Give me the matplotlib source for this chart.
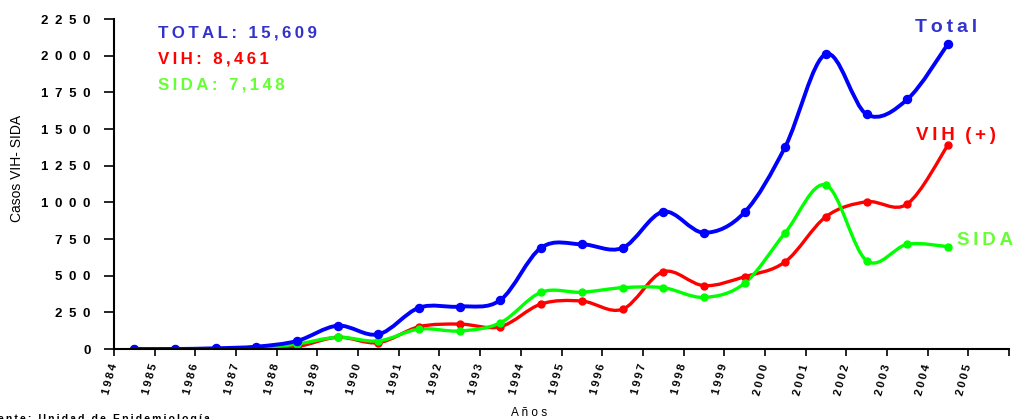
import numpy as np
import matplotlib
matplotlib.use("Agg")
import matplotlib.pyplot as plt
from matplotlib.path import Path
from matplotlib.patches import PathPatch
from matplotlib.transforms import ScaledTranslation

plt.rcParams['font.family'] = ['Liberation Sans', 'DejaVu Sans']

# datos
tick_years = list(range(1984, 2006))
years = list(range(1984, 2005))
total = [0, 0, 5, 16, 55, 159, 100, 282, 289, 334, 691, 714, 689, 936, 793, 932, 1379, 2011, 1600, 1702, 2080]
vih = [0, 0, 0, 0, 16, 80, 43, 152, 170, 152, 307, 327, 271, 527, 432, 493, 595, 902, 1004, 989, 1391]
sida = [0, 0, 0, 4, 34, 80, 55, 136, 123, 179, 387, 387, 418, 418, 352, 448, 793, 1118, 602, 714, 698]
yticks = [0, 250, 500, 750, 1000, 1250, 1500, 1750, 2000, 2250]

W, H = 1014, 419


def sp(s, gap='\u2009'):
    # espaciado entre letras
    return gap.join(s)


def px(x, y):
    return x / W, 1 - y / H


def smooth(ax, xs, ys, color, lw, ms):
    pts = np.column_stack([xs, ys]).astype(float)
    n = len(pts)
    verts = [pts[0]]
    codes = [Path.MOVETO]
    for i in range(n - 1):
        p0 = pts[max(i - 1, 0)]
        p1 = pts[i]
        p2 = pts[i + 1]
        p3 = pts[min(i + 2, n - 1)]
        verts += [p1 + (p2 - p0) / 6, p2 - (p3 - p1) / 6, p2]
        codes += [Path.CURVE4] * 3
    ax.add_patch(PathPatch(Path(verts, codes), fill=False, edgecolor=color,
                           lw=lw, capstyle='round', joinstyle='round'))
    ax.plot(xs, ys, 'o', color=color, ms=ms, mec=color)


fig = plt.figure(figsize=(W / 100, H / 100), dpi=100)
ax = fig.add_axes([114 / W, 70 / H, 895 / W, 330 / H])

xs = [years.index(y) + 0.5 for y in years]
smooth(ax, xs, vih, '#FF0000', 2.4, 5)
smooth(ax, xs, sida, '#00FF00', 2.4, 5)
smooth(ax, xs, total, '#0000FF', 2.8, 5.8)

ax.set_xlim(0, 22)
ax.set_ylim(0, 2250)
ax.set_xticks(range(23))
ax.set_xticklabels([sp(str(y)) for y in tick_years] + [''],
                   fontsize=8, fontweight='bold', rotation=75, ha='right',
                   va='center', rotation_mode='anchor')
shift = ScaledTranslation(0.06, 0, fig.dpi_scale_trans)
for lab in ax.get_xticklabels():
    lab.set_transform(lab.get_transform() + shift)
ax.set_yticks(yticks)
ax.set_yticklabels([sp(str(v), '\u2002') for v in yticks], fontsize=9.5,
                   fontweight='bold')
ax.tick_params(axis='y', length=7, width=1.2, pad=10)
ax.tick_params(axis='x', length=5, width=1.2, pad=6, direction='out')
for s in ['top', 'right']:
    ax.spines[s].set_visible(False)
for s in ['left', 'bottom']:
    ax.spines[s].set_linewidth(1.5)

fig.text(*px(17, 168), 'Casos VIH- SIDA', rotation=90, fontsize=10,
         ha='center', va='center')
fig.text(*px(529, 413), 'A ñ o s', fontsize=8.5, ha='center', va='center')
fig.text(*px(210, 422), sp('Fuente: Unidad de Epidemiología'), fontsize=7.5,
         fontweight='bold', ha='right', va='baseline')

gap = '\u2009 \u2009'
fig.text(*px(158, 33), sp('TOTAL:') + gap + sp('15,609'), color='#3333CC',
         fontsize=12.2, fontweight='bold', va='center')
fig.text(*px(158, 59.5), sp('VIH:') + gap + sp('8,461'), color='#FF0000',
         fontsize=12.2, fontweight='bold', va='center')
fig.text(*px(158, 85.5), sp('SIDA:') + gap + sp('7,148'), color='#66FF33',
         fontsize=12.2, fontweight='bold', va='center')

fig.text(*px(946, 28), sp('Total'), color='#3333CC', fontsize=14,
         fontweight='bold', ha='center', va='center')
fig.text(*px(916, 135), sp('VIH') + '  ' + sp('(+)'), color='#FF0000',
         fontsize=13.5, fontweight='bold', ha='left', va='center')
fig.text(*px(957, 240), sp('SIDA'), color='#66FF33', fontsize=13.5,
         fontweight='bold', ha='left', va='center')

fig.savefig('out.png', dpi=100)
